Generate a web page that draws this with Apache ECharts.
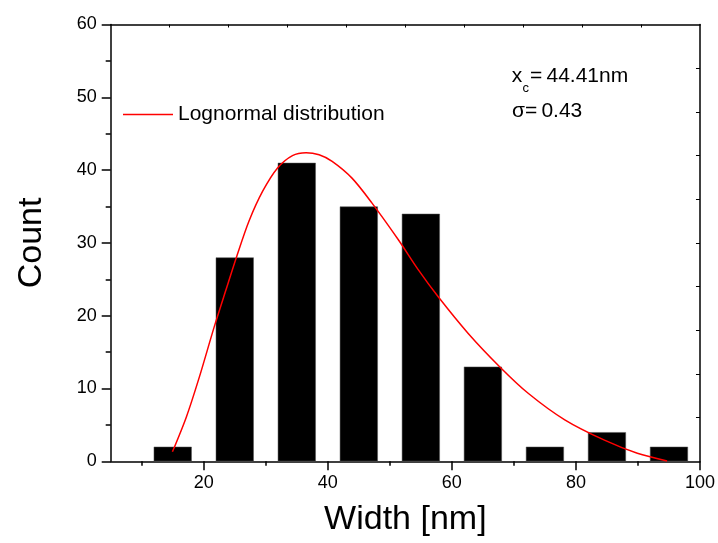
<!DOCTYPE html>
<html>
<head>
<meta charset="utf-8">
<script src="https://cdn.jsdelivr.net/npm/echarts@6/dist/echarts.min.js"></script>
<style>
html,body{margin:0;padding:0;background:#fff;}
#chart{width:718px;height:543px;}
</style>
</head>
<body>
<div id="chart"></div>
<script>
// Histogram bins (centers, nm) and counts
const binCenters = [15, 25, 35, 45, 55, 65, 75, 85, 95];
const counts = [2, 28, 41, 35, 34, 13, 2, 4, 2];

// Lognormal fit curve
const fitX = [14.95, 17.2, 19.3, 21.7, 23.6, 25.3, 27.3, 29.5, 31.9, 34.3, 36.5, 38.6, 40.7, 43.9, 47.1, 51.4, 54.6, 57.8, 62.6, 67.7, 72.3, 78.2, 84.6, 89.9, 94.7];
const fitY = [1.3, 6.1, 11.6, 18.5, 23.6, 28.1, 33.0, 37.1, 40.3, 42.0, 42.4, 42.1, 41.2, 38.9, 35.5, 30.4, 26.3, 22.6, 17.6, 13.0, 9.35, 5.7, 2.9, 1.1, 0.05];

// Tick values
const xMajorTicks = [20, 40, 60, 80, 100];
const xMinorTicks = [10, 30, 50, 70, 90];
const xTopTicks = [14.5, 24, 33.5, 43, 52.5, 62, 71.5, 81, 90.5];
const yRightTicks = [6, 12, 18, 24, 30, 36, 42, 48, 54];

const seriesName = 'Lognormal distribution';
const font = 'Liberation Sans, Arial, sans-serif';

const chart = echarts.init(document.getElementById('chart'));
const black = '#000';
const axisLine = {show: true, lineStyle: {color: black, width: 1.5}};

chart.setOption({
  animation: false,
  backgroundColor: '#fff',
  grid: {left: 110.7, right: 15.3, top: 24.5, bottom: 81.7, containLabel: false},
  legend: {
    left: 123, top: 104, padding: 0, itemWidth: 50, itemHeight: 1.5,
    data: [{name: seriesName, icon: 'rect'}],
    textStyle: {fontFamily: font, fontSize: 21, color: black}
  },
  xAxis: [
    {
      type: 'value', position: 'bottom', min: 5, max: 100,
      axisLine: axisLine,
      axisTick: {show: true, inside: false, length: 9, customValues: xMajorTicks, lineStyle: {color: black, width: 1.5}},
      axisLabel: {show: true, customValues: xMajorTicks, margin: 13, fontFamily: font, fontSize: 18, color: black},
      splitLine: {show: false},
      name: 'Width [nm]', nameLocation: 'middle', nameGap: 41,
      nameTextStyle: {fontFamily: font, fontSize: 34, color: black}
    },
    {
      type: 'value', position: 'bottom', min: 5, max: 100,
      axisLine: {show: false},
      axisTick: {show: true, inside: false, length: 4.5, customValues: xMinorTicks, lineStyle: {color: black, width: 1.5}},
      axisLabel: {show: false},
      splitLine: {show: false}
    },
    {
      type: 'value', position: 'top', min: 5, max: 100,
      axisLine: axisLine,
      axisTick: {show: true, inside: true, length: 3, customValues: xTopTicks, lineStyle: {color: black, width: 1}},
      axisLabel: {show: false},
      splitLine: {show: false}
    }
  ],
  yAxis: [
    {
      type: 'value', position: 'left', min: 0, max: 60, interval: 10,
      axisLine: axisLine,
      axisTick: {show: true, inside: false, length: 9, lineStyle: {color: black, width: 1.5}},
      minorTick: {show: true, splitNumber: 2, length: 5, lineStyle: {color: black, width: 1.5}},
      axisLabel: {margin: 14, fontFamily: font, fontSize: 18, color: black},
      splitLine: {show: false},
      name: 'Count', nameLocation: 'middle', nameGap: 62,
      nameTextStyle: {fontFamily: font, fontSize: 34, color: black}
    },
    {
      type: 'value', position: 'right', min: 0, max: 60,
      axisLine: axisLine,
      axisTick: {show: true, inside: true, length: 4, customValues: yRightTicks, lineStyle: {color: black, width: 1}},
      axisLabel: {show: false},
      splitLine: {show: false}
    }
  ],
  series: [
    {
      type: 'bar', xAxisIndex: 0, yAxisIndex: 0,
      barWidth: 38,
      itemStyle: {color: black, borderColor: '#555', borderWidth: 0.5},
      data: binCenters.map((c, i) => [c, counts[i]]),
      z: 2
    },
    {
      name: seriesName,
      type: 'line', xAxisIndex: 0, yAxisIndex: 0,
      smooth: 0.3, symbol: 'none', showSymbol: false,
      lineStyle: {color: '#f00', width: 1.5},
      itemStyle: {color: '#f00'},
      data: fitX.map((x, i) => [x, fitY[i]]),
      z: 3
    }
  ],
  graphic: [
    {type: 'text', x: 511.7, y: 76, style: {text: 'x', fontFamily: font, fontSize: 21, fill: black, verticalAlign: 'middle'}},
    {type: 'text', x: 522.5, y: 88, style: {text: 'c', fontFamily: font, fontSize: 13, fill: black, verticalAlign: 'middle'}},
    {type: 'text', x: 530, y: 76.5, style: {text: '=\u200944.41nm', fontFamily: font, fontSize: 21, fill: black, verticalAlign: 'middle'}},
    {type: 'text', x: 512, y: 111, style: {text: 'σ=\u20090.43', fontFamily: font, fontSize: 21, fill: black, verticalAlign: 'middle'}}
  ]
});
</script>
</body>
</html>
